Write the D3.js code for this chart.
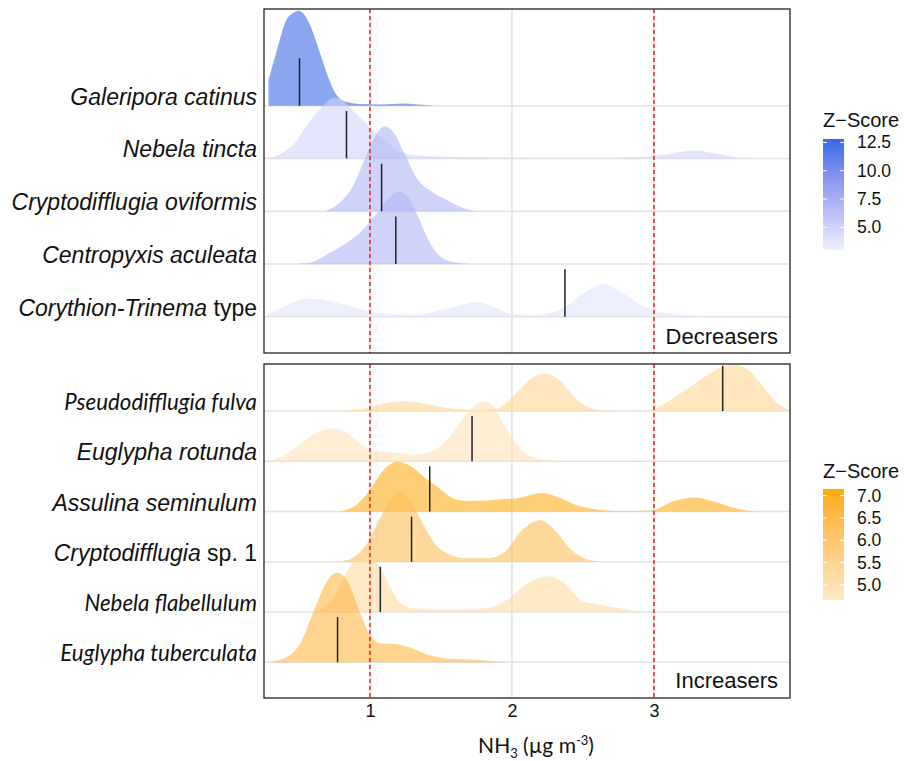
<!DOCTYPE html>
<html><head><meta charset="utf-8">
<script src="https://cdn.jsdelivr.net/npm/d3@7"></script>
<style>
body{margin:0;background:#fff;}
svg{display:block;font-family:"Liberation Sans",Arial,sans-serif;}
</style>
</head><body>
<svg id="chart" width="906" height="761"></svg>
<script>
// ---------------- DATA ----------------
const xTicks = [1, 2, 3];
const thresholdLines = [1, 3];

// Decreasers (top panel), top row first
const decLabels = [
  [["Galeripora catinus", true]],
  [["Nebela tincta", true]],
  [["Cryptodifflugia oviformis", true]],
  [["Centropyxis aculeata", true]],
  [["Corythion-Trinema", true], [" type", false]]
];
const decZ = [12.5, 5.0, 7.0, 7.0, 3.8];
const decMeans = [0.504, 0.835, 1.082, 1.182, 2.373];
const densGaleripora = [[0.286,0.49],[0.346,1.06],[0.407,1.60],[0.467,1.77],[0.496,1.80],[0.540,1.72],[0.588,1.47],[0.649,0.99],[0.709,0.52],[0.758,0.23],[0.830,0.076],[0.951,0.03],[1.073,0.025],[1.242,0.044],[1.363,0.02],[1.460,0]];
const densNebelaTincta = [[0.274,0],[0.371,0.09],[0.467,0.28],[0.564,0.66],[0.661,0.97],[0.746,1.15],[0.806,1.10],[0.879,0.91],[0.951,0.72],[1.024,0.53],[1.121,0.31],[1.194,0.15],[1.266,0.076],[1.436,0.04],[1.678,0.025],[1.993,0.02],[2.404,0.015],[2.888,0.025],[3.082,0.076],[3.288,0.15],[3.445,0.09],[3.614,0.01],[3.687,0]];
const densCryptoOviformis = [[0.685,0],[0.782,0.15],[0.879,0.47],[0.951,0.91],[1.024,1.35],[1.104,1.61],[1.169,1.48],[1.242,1.10],[1.339,0.59],[1.436,0.37],[1.533,0.22],[1.629,0.09],[1.726,0.01],[1.750,0]];
const densCentropyxis = [[0.492,0],[0.588,0.03],[0.709,0.20],[0.830,0.39],[0.951,0.65],[1.048,0.96],[1.133,1.25],[1.206,1.37],[1.266,1.28],[1.339,0.90],[1.411,0.46],[1.484,0.17],[1.581,0.04],[1.702,0]];
const densCorythion = [[0.274,0.03],[0.371,0.16],[0.467,0.28],[0.564,0.34],[0.709,0.30],[0.830,0.22],[0.951,0.13],[1.073,0.06],[1.315,0.044],[1.557,0.16],[1.750,0.28],[1.871,0.19],[1.993,0.05],[2.162,0.03],[2.356,0.16],[2.501,0.44],[2.646,0.62],[2.767,0.47],[2.888,0.25],[3.009,0.11],[3.251,0.03],[3.372,0]];
const decDensities = [densGaleripora, densNebelaTincta, densCryptoOviformis, densCentropyxis, densCorythion];

// Increasers (bottom panel), top row first
const incLabels = [
  [["Pseudodifflugia fulva", true]],
  [["Euglypha rotunda", true]],
  [["Assulina seminulum", true]],
  [["Cryptodifflugia", true], [" sp. 1", false]],
  [["Nebela flabellulum", true]],
  [["Euglypha tuberculata", true]]
];
const incZ = [5.4, 4.9, 7.0, 6.3, 5.2, 6.6];
const incMeans = [3.484, 1.719, 1.421, 1.293, 1.073, 0.772];
const densPseudodifflugia = [[0.782,0],[0.951,0.05],[1.097,0.15],[1.254,0.20],[1.412,0.13],[1.581,0.05],[1.726,0.02],[1.896,0.05],[2.017,0.32],[2.138,0.65],[2.240,0.75],[2.331,0.62],[2.428,0.32],[2.525,0.09],[2.646,0.01],[2.888,0],[3.009,0.05],[3.130,0.25],[3.275,0.52],[3.397,0.75],[3.493,0.89],[3.566,0.92],[3.663,0.82],[3.760,0.52],[3.856,0.19],[3.953,0.02]];
const densEuglyphaRotunda = [[0.274,0],[0.371,0.08],[0.492,0.30],[0.613,0.55],[0.746,0.65],[0.855,0.53],[0.951,0.30],[1.048,0.20],[1.194,0.17],[1.315,0.13],[1.436,0.20],[1.557,0.47],[1.678,0.93],[1.750,1.13],[1.811,1.19],[1.871,1.08],[1.944,0.73],[2.017,0.40],[2.113,0.13],[2.234,0.03],[2.404,0]];
const densAssulina = [[0.782,0],[0.903,0.13],[1.000,0.43],[1.097,0.83],[1.194,0.99],[1.290,0.90],[1.387,0.67],[1.484,0.47],[1.581,0.27],[1.678,0.21],[1.871,0.23],[2.065,0.28],[2.210,0.37],[2.331,0.28],[2.452,0.13],[2.573,0.05],[2.767,0.01],[2.985,0.02],[3.130,0.20],[3.288,0.28],[3.421,0.20],[3.566,0.07],[3.711,0]];
const densCryptoSp1 = [[0.782,0],[0.879,0.08],[0.976,0.35],[1.073,0.88],[1.145,1.25],[1.213,1.38],[1.290,1.21],[1.363,0.81],[1.460,0.35],[1.557,0.15],[1.678,0.07],[1.823,0.07],[1.944,0.18],[2.065,0.61],[2.198,0.83],[2.307,0.61],[2.404,0.28],[2.501,0.08],[2.622,0]];
const densNebelaFlab = [[0.637,0.01],[0.758,0.35],[0.855,0.88],[0.951,1.11],[1.073,0.88],[1.145,0.48],[1.218,0.18],[1.315,0.07],[1.557,0.05],[1.799,0.07],[1.968,0.25],[2.113,0.58],[2.266,0.71],[2.380,0.55],[2.501,0.21],[2.598,0.16],[2.743,0.08],[2.912,0]];
const densEuglyphaTub = [[0.298,0.01],[0.419,0.11],[0.516,0.41],[0.613,1.08],[0.697,1.61],[0.770,1.78],[0.843,1.61],[0.927,1.01],[1.000,0.55],[1.073,0.38],[1.194,0.36],[1.290,0.29],[1.412,0.15],[1.557,0.07],[1.750,0.05],[1.920,0.01],[1.968,0]];
const incDensities = [densPseudodifflugia, densEuglyphaRotunda, densAssulina, densCryptoSp1, densNebelaFlab, densEuglyphaTub];

const decLegendTicks = [5.0, 7.5, 10.0, 12.5];
const incLegendTicks = [5.0, 5.5, 6.0, 6.5, 7.0];

// ---------------- STYLE / LAYOUT ----------------
const decLabelFonts = ["Liberation Sans","Liberation Sans","Liberation Sans","Liberation Sans","Liberation Sans"];
const incLabelFonts = ["Lato","Liberation Sans","Liberation Sans","Liberation Sans","Lato","Lato"];

const svg = d3.select("#chart");
const X0 = 264, X1 = 790;
const x = d3.scaleLinear().domain([0.254, 3.958]).range([X0, X1]);

const decColor = d3.scaleLinear().domain([3.0, 12.8]).range(["#eef0fc", "#3369e8"]).interpolate(d3.interpolateLab);
const incColor = d3.scaleLinear().domain([4.66, 7.15]).range(["#fde8c4", "#ffab00"]).interpolate(d3.interpolateLab);

const panels = [
  {top: 9, bottom: 353, y0: 105.7, y1: 316.7, labels: decLabels, z: decZ, means: decMeans, dens: decDensities,
   color: decColor, fonts: decLabelFonts, tag: "Decreasers", tagY: 344,
   legTop: 139, legBot: 250, legDomain: [12.8, 3.0], legTicks: decLegendTicks, legTitleY: 120},
  {top: 364, bottom: 698, y0: 411, y1: 662.3, labels: incLabels, z: incZ, means: incMeans, dens: incDensities,
   color: incColor, fonts: incLabelFonts, tag: "Increasers", tagY: 688,
   legTop: 489, legBot: 600, legDomain: [7.15, 4.66], legTicks: incLegendTicks, legTitleY: 471}
];

const defs = svg.append("defs");

panels.forEach((p, pi) => {
  const n = p.labels.length;
  const y = d3.scaleLinear().domain([0, n - 1]).range([p.y0, p.y1]);
  const unit = (p.y1 - p.y0) / (n - 1);

  defs.append("clipPath").attr("id", "clip" + pi)
    .append("rect").attr("x", X0).attr("y", p.top).attr("width", X1 - X0).attr("height", p.bottom - p.top);

  const g = svg.append("g");
  // grid
  g.selectAll(".vg").data(xTicks).join("line")
    .attr("x1", d => x(d)).attr("x2", d => x(d)).attr("y1", p.top).attr("y2", p.bottom)
    .attr("stroke", "#e3e3e3").attr("stroke-width", 1.6);
  g.selectAll(".hg").data(d3.range(n)).join("line")
    .attr("x1", X0).attr("x2", X1).attr("y1", i => y(i)).attr("y2", i => y(i))
    .attr("stroke", "#e3e3e3").attr("stroke-width", 1.6);

  const body = g.append("g").attr("clip-path", `url(#clip${pi})`);
  // ridges: upper rows first, lower rows on top
  d3.range(n).forEach(i => {
    const area = d3.area()
      .x(d => x(d[0]))
      .y0(y(i))
      .y1(d => y(i) - d[1] * unit)
      .curve(d3.curveMonotoneX);
    body.append("path").datum(p.dens[i]).attr("d", area)
      .attr("fill", p.color(p.z[i])).attr("fill-opacity", 0.6).attr("stroke", "none");
  });
  // mean lines
  body.selectAll(".ml").data(p.means).join("line")
    .attr("x1", d => x(d)).attr("x2", d => x(d))
    .attr("y1", (d, i) => y(i)).attr("y2", (d, i) => y(i) - 0.9 * unit)
    .attr("stroke", "#222").attr("stroke-width", 1.5);

  // threshold lines
  g.selectAll(".th").data(thresholdLines).join("line")
    .attr("x1", d => x(d)).attr("x2", d => x(d)).attr("y1", p.top).attr("y2", p.bottom)
    .attr("stroke", "#ff1a1a").attr("stroke-width", 1.5).attr("stroke-dasharray", "4,3");

  // border
  g.append("rect").attr("x", X0).attr("y", p.top).attr("width", X1 - X0).attr("height", p.bottom - p.top)
    .attr("fill", "none").attr("stroke", "#222").attr("stroke-width", 1.3);

  // tag
  g.append("text").attr("x", X1 - 12).attr("y", p.tagY).attr("text-anchor", "end")
    .attr("font-size", 22).attr("fill", "#111").text(p.tag);

  // labels
  p.labels.forEach((parts, i) => {
    const t = svg.append("text").attr("x", 257).attr("y", y(i) - 1).attr("text-anchor", "end")
      .attr("font-size", p.fonts[i] === "Lato" ? 22.3 : 23).attr("fill", "#111").style("font-family", p.fonts[i]);
    parts.forEach(([txt, it]) => t.append("tspan").attr("font-style", it ? "italic" : "normal").text(txt));
  });

  // legend
  const gid = "grad" + pi;
  const lg = defs.append("linearGradient").attr("id", gid).attr("x1", 0).attr("x2", 0).attr("y1", 0).attr("y2", 1);
  d3.range(0, 1.0001, 0.05).forEach(t => {
    const v = p.legDomain[0] + (p.legDomain[1] - p.legDomain[0]) * t;
    lg.append("stop").attr("offset", t).attr("stop-color", p.color(v));
  });
  const ly = d3.scaleLinear().domain(p.legDomain).range([p.legTop, p.legBot]);
  const LX0 = 823, LW = 21;
  svg.append("text").attr("x", LX0).attr("y", p.legTitleY).attr("dominant-baseline", "central")
    .attr("font-size", 20).attr("fill", "#111").text("Z\u2212Score");
  svg.append("rect").attr("x", LX0).attr("y", p.legTop).attr("width", LW).attr("height", p.legBot - p.legTop)
    .attr("fill", `url(#${gid})`);
  p.legTicks.forEach(v => {
    svg.append("line").attr("x1", LX0).attr("x2", LX0 + 4).attr("y1", ly(v)).attr("y2", ly(v)).attr("stroke", "#fff").attr("stroke-width", 1);
    svg.append("line").attr("x1", LX0 + LW - 4).attr("x2", LX0 + LW).attr("y1", ly(v)).attr("y2", ly(v)).attr("stroke", "#fff").attr("stroke-width", 1);
    svg.append("text").attr("x", 857).attr("y", ly(v)).attr("dominant-baseline", "central")
      .attr("font-size", 17.5).attr("fill", "#111").text(v.toFixed(1));
  });
});

// x axis
const axisG = svg.append("g").attr("transform", "translate(0,698)");
axisG.call(d3.axisBottom(x).tickValues(xTicks).tickSize(0).tickPadding(6).tickFormat(d3.format("d")));
axisG.select(".domain").remove();
axisG.selectAll("text").attr("font-size", 18).attr("fill", "#111").style("font-family", "Liberation Sans");

const title = svg.append("text").attr("x", 536).attr("y", 753).attr("text-anchor", "middle")
  .attr("font-size", 21).attr("fill", "#111").style("font-family", "Lato");
title.append("tspan").text("NH");
title.append("tspan").attr("font-size", 13).attr("dy", 5).text("3");
title.append("tspan").attr("dy", -5).text(" (\u00b5g m");
title.append("tspan").attr("font-size", 13).attr("dy", -8).text("-3");
title.append("tspan").attr("dy", 8).text(")");
</script>
</body></html>
